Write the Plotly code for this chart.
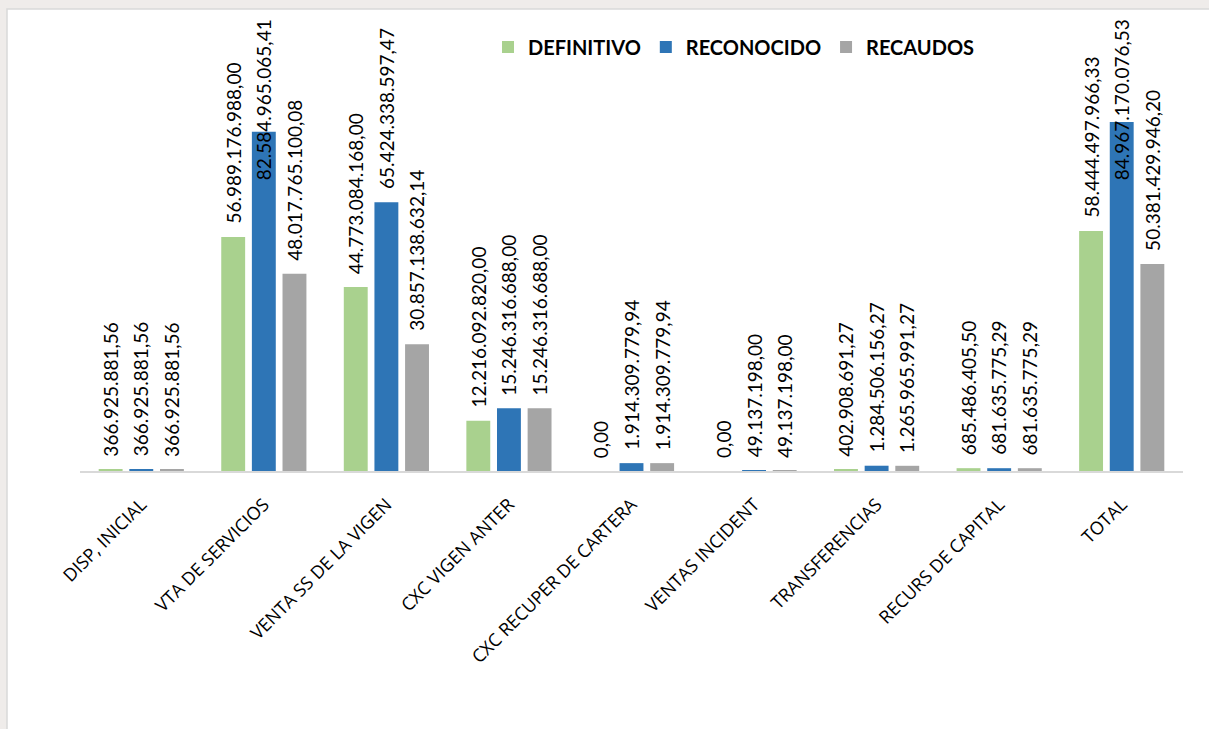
import plotly.graph_objects as go

categories = ["DISP, INICIAL", "VTA DE SERVICIOS", "VENTA SS DE LA VIGEN", "CXC VIGEN ANTER",
              "CXC RECUPER DE CARTERA", "VENTAS INCIDENT", "TRANSFERENCIAS", "RECURS DE CAPITAL", "TOTAL"]
definitivo = [366925881.56, 56989176988.00, 44773084168.00, 12216092820.00, 0.00, 0.00,
              402908691.27, 685486405.50, 58444497966.33]
reconocido = [366925881.56, 82584965065.41, 65424338597.47, 15246316688.00, 1914309779.94,
              49137198.00, 1284506156.27, 681635775.29, 84967170076.53]
recaudos = [366925881.56, 48017765100.08, 30857138632.14, 15246316688.00, 1914309779.94,
            49137198.00, 1265965991.27, 681635775.29, 50381429946.20]
series_names = ["DEFINITIVO", "RECONOCIDO", "RECAUDOS"]
colors = ["#A9D18E", "#2E75B6", "#A5A5A5"]

W, H = 1209, 729
ML, MR, MT, MB = 80, 26, 15, 258
plot_h = H - MT - MB
YMAX = 111e9
FONT = "Lato"
LBL_SIZE = 19


def fmt(v):
    s = f"{v:,.2f}"
    return s.replace(",", "X").replace(".", ",").replace("X", ".")


def text_len(s):
    return sum(0.58 if c.isdigit() else 0.27 for c in s) * LBL_SIZE


fig = go.Figure()
xs = list(range(len(categories)))
all_series = [definitivo, reconocido, recaudos]
for name, vals, col in zip(series_names, all_series, colors):
    fig.add_trace(go.Bar(x=xs, y=vals, name=name, marker=dict(color=col, line=dict(width=0))))

offsets = [-0.25, 0.0, 0.25]
gap = 15
annotations = []
for vals, off in zip(all_series, offsets):
    for i, v in enumerate(vals):
        t = fmt(v)
        vpx = v / YMAX * plot_h
        if vpx + gap + text_len(t) > plot_h - 2:
            annotations.append(dict(x=i + off, y=YMAX, xref="x", yref="y", text=t, textangle=-90,
                                    showarrow=False, yanchor="top", yshift=-2,
                                    font=dict(family=FONT, size=LBL_SIZE, color="#000")))
        else:
            annotations.append(dict(x=i + off, y=v, xref="x", yref="y", text=t, textangle=-90,
                                    showarrow=False, yanchor="bottom", yshift=gap - 4,
                                    font=dict(family=FONT, size=LBL_SIZE, color="#000")))

pw = W - ML - MR
shapes = [
    dict(type="rect", xref="paper", yref="paper",
         x0=(7 - ML) / pw, x1=(W + 5 - ML) / pw,
         y0=(H - MB - (H + 5)) / plot_h, y1=(H - MB - 9) / plot_h,
         fillcolor="white", line=dict(color="#D9D9D9", width=1.5), layer="below"),
]

fig.update_layout(
    width=W, height=H,
    margin=dict(l=ML, r=MR, t=MT, b=MB),
    paper_bgcolor="#EFECEA", plot_bgcolor="rgba(0,0,0,0)",
    barmode="group", bargap=0.25, bargroupgap=0.22,
    showlegend=True,
    legend=dict(orientation="h", x=(488 - ML) / pw, xanchor="left", y=(H - MB - 47) / plot_h, yanchor="middle",
                font=dict(family=FONT, size=20, color="#000", weight="bold"),
                bgcolor="rgba(0,0,0,0)", itemwidth=30, tracegroupgap=0),
    xaxis=dict(tickmode="array", tickvals=xs, ticktext=categories, tickangle=-45,
               range=[-0.5, len(categories) - 0.5], showline=True, linecolor="#D9D9D9", linewidth=2,
               ticks="", showgrid=False, zeroline=False, automargin=False, ticklabelstandoff=14,
               tickfont=dict(family="Open Sans", size=18, color="#000")),
    yaxis=dict(range=[0, YMAX], visible=False, showgrid=False, zeroline=False),
    annotations=annotations, shapes=shapes,
    font=dict(family=FONT),
)

fig.write_html("out.html")
